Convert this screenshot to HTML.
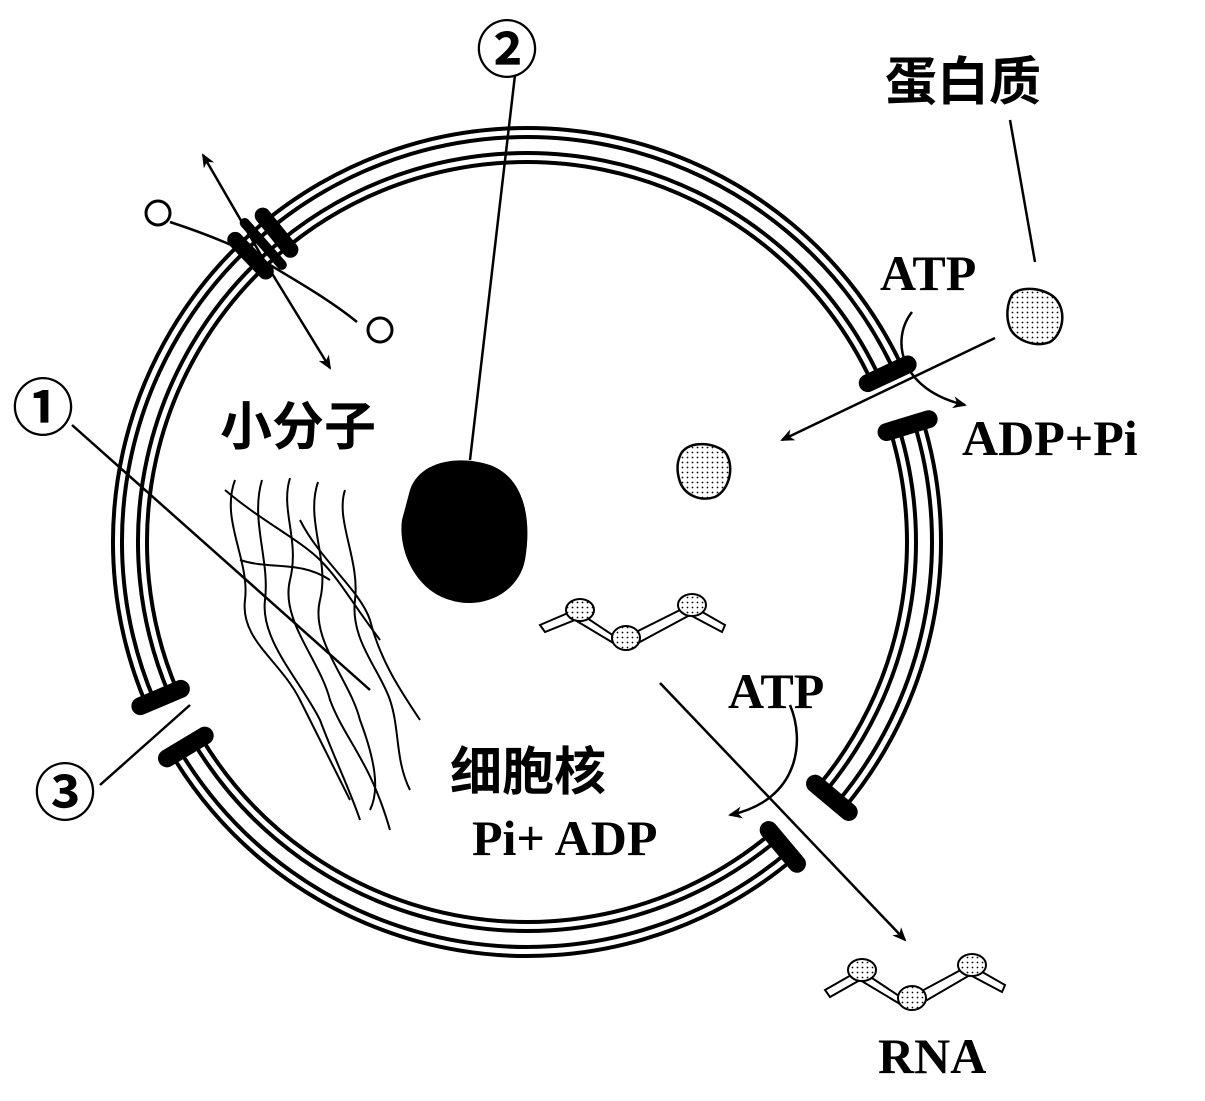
<!DOCTYPE html>
<html><head><meta charset="utf-8"><style>
html,body{margin:0;padding:0;background:#fff}
svg{display:block}
.t{font-family:"Liberation Serif","Noto Serif CJK SC",serif;font-weight:bold;fill:#000}
.c{font-family:"Liberation Sans","Noto Sans CJK SC",sans-serif;fill:#000}
</style></head><body>
<svg id="s" width="1205" height="1101" viewBox="0 0 1205 1101" xmlns="http://www.w3.org/2000/svg">
<defs>
<marker id="a" markerWidth="14" markerHeight="12" refX="12" refY="6" orient="auto" markerUnits="userSpaceOnUse"><path d="M0,0 L14,6 L0,12 L4,6 Z" fill="#000"/></marker>
<pattern id="d" width="5" height="5" patternUnits="userSpaceOnUse"><rect width="5" height="5" fill="#fff"/><circle cx="2.5" cy="2.5" r="0.9" fill="#000"/></pattern>
</defs>
<g id="ring" fill="none" stroke="#000" stroke-width="4"></g>
<g id="caps" fill="#000"></g>
<path d="M410,490 C420,460 460,455 490,465 C525,478 532,520 525,560 C518,595 480,610 450,600 C415,590 398,550 402,520 Z" fill="#000"/>
<g fill="none" stroke="#000" stroke-width="2">
<path d="M235,480 C220,520 250,560 245,600 C240,640 280,660 300,700 C320,740 330,760 350,800"/>
<path d="M262,480 C250,520 270,560 265,600 C260,640 300,680 320,720 C335,760 350,790 360,820"/>
<path d="M290,478 C280,510 300,540 290,580 C280,620 320,660 330,700 C345,740 370,760 390,830"/>
<path d="M318,482 C305,520 330,560 320,600 C310,640 350,680 360,720 C375,760 380,790 370,810"/>
<path d="M345,490 C335,520 360,560 355,600 C350,640 380,670 390,700 C400,730 395,760 410,790"/>
<path d="M225,490 C260,520 300,540 320,560 C340,580 350,600 380,640"/>
<path d="M300,520 C320,560 360,590 370,620 C380,660 400,690 420,720"/>
<path d="M240,560 C270,570 300,560 330,580"/>
</g>
<g stroke="#000" stroke-width="2.5" fill="none">
<line x1="72" y1="425" x2="370" y2="690"/>
<line x1="515" y1="75" x2="470" y2="460"/>
<line x1="100" y1="785" x2="190" y2="705"/>
<line x1="1010" y1="120" x2="1035" y2="262"/>
<line x1="995" y1="338" x2="782" y2="440" marker-end="url(#a)"/>
<line x1="660" y1="683" x2="905" y2="940" marker-end="url(#a)"/>
<line x1="265" y1="262" x2="203" y2="155" marker-end="url(#a)"/>
<line x1="265" y1="262" x2="330" y2="368" marker-end="url(#a)"/>
<path d="M170,222 C210,235 245,250 265,262 C295,280 330,300 357,322"/>
<path d="M912,312 C890,340 900,390 965,405" marker-end="url(#a)"/>
<path d="M790,705 C805,740 800,800 730,815" marker-end="url(#a)"/>
</g>
<circle cx="158" cy="213" r="12" fill="#fff" stroke="#000" stroke-width="3"/>
<circle cx="380" cy="330" r="12" fill="#fff" stroke="#000" stroke-width="3"/>
<path d="M1012,295 C1020,285 1045,288 1055,298 C1068,312 1062,335 1050,342 C1035,348 1015,340 1010,328 C1005,315 1008,302 1012,295 Z" fill="url(#d)" stroke="#000" stroke-width="2.5"/>
<path d="M682,452 C692,440 715,443 725,452 C735,465 730,490 715,497 C700,502 685,495 680,482 C676,470 677,460 682,452 Z" fill="url(#d)" stroke="#000" stroke-width="2.5"/>
<g stroke="#000" stroke-width="2" fill="#fff">
<path d="M540,625 L575,610 L620,640 L690,605 L725,625 L722,632 L690,615 L625,650 L575,620 L545,632 Z"/>
<path d="M825,990 L860,970 L905,1000 L970,965 L1005,985 L1002,992 L970,975 L910,1010 L860,980 L830,997 Z"/>
</g>
<g fill="url(#d)" stroke="#000" stroke-width="2">
<ellipse cx="580" cy="610" rx="14" ry="11"/><ellipse cx="626" cy="638" rx="14" ry="12"/><ellipse cx="692" cy="605" rx="14" ry="11"/>
<ellipse cx="862" cy="970" rx="14" ry="11"/><ellipse cx="912" cy="998" rx="14" ry="12"/><ellipse cx="972" cy="965" rx="14" ry="11"/>
</g>
<text class="c" x="12" y="430" font-size="62" font-weight="bold">①</text>
<text class="c" x="476" y="72" font-size="62" font-weight="bold">②</text>
<text class="c" x="34" y="815" font-size="62" font-weight="bold">③</text>
<text class="c" x="885" y="100" font-size="52" font-weight="bold">蛋白质</text>
<text class="c" x="220" y="445" font-size="52" font-weight="bold">小分子</text>
<text class="c" x="450" y="790" font-size="52" font-weight="bold">细胞核</text>
<text class="t" x="880" y="290" font-size="50">ATP</text>
<text class="t" x="962" y="455" font-size="50">ADP+Pi</text>
<text class="t" x="728" y="708" font-size="50">ATP</text>
<text class="t" x="472" y="855" font-size="50">Pi+ ADP</text>
<text class="t" x="878" y="1073" font-size="50">RNA</text>
</svg>
<script>
var cx=527,cy=542,ns="http://www.w3.org/2000/svg";
var arcs=[[-132,-25],[-17,40],[50,149],[157,228]];
var radii=[380,389,405,414];
var g=document.getElementById('ring'),cg=document.getElementById('caps');
function pt(r,a){a=a*Math.PI/180;return [cx+r*Math.cos(a),cy+r*Math.sin(a)];}
function bar(a,w,r1,r2){var p1=pt(r1,a),p2=pt(r2,a);
 var l=document.createElementNS(ns,'line');
 l.setAttribute('x1',p1[0]);l.setAttribute('y1',p1[1]);l.setAttribute('x2',p2[0]);l.setAttribute('y2',p2[1]);
 l.setAttribute('stroke','#000');l.setAttribute('stroke-width',w);l.setAttribute('stroke-linecap','round');
 cg.appendChild(l);}
arcs.forEach(function(ar){
 radii.forEach(function(r){
  var p1=pt(r,ar[0]),p2=pt(r,ar[1]);
  var p=document.createElementNS(ns,'path');
  p.setAttribute('d','M'+p1+' A'+r+','+r+' 0 0 1 '+p2);
  g.appendChild(p);
 });
 [ar[0],ar[1]].forEach(function(a){
  if(Math.abs(a+132)<1||Math.abs(a-228)<1)return;
  bar(a,18,376,420);
 });
});
bar(-134,16,376,420);bar(-129,16,376,420);bar(-131.5,10,370,426);
</script>
</body></html>
